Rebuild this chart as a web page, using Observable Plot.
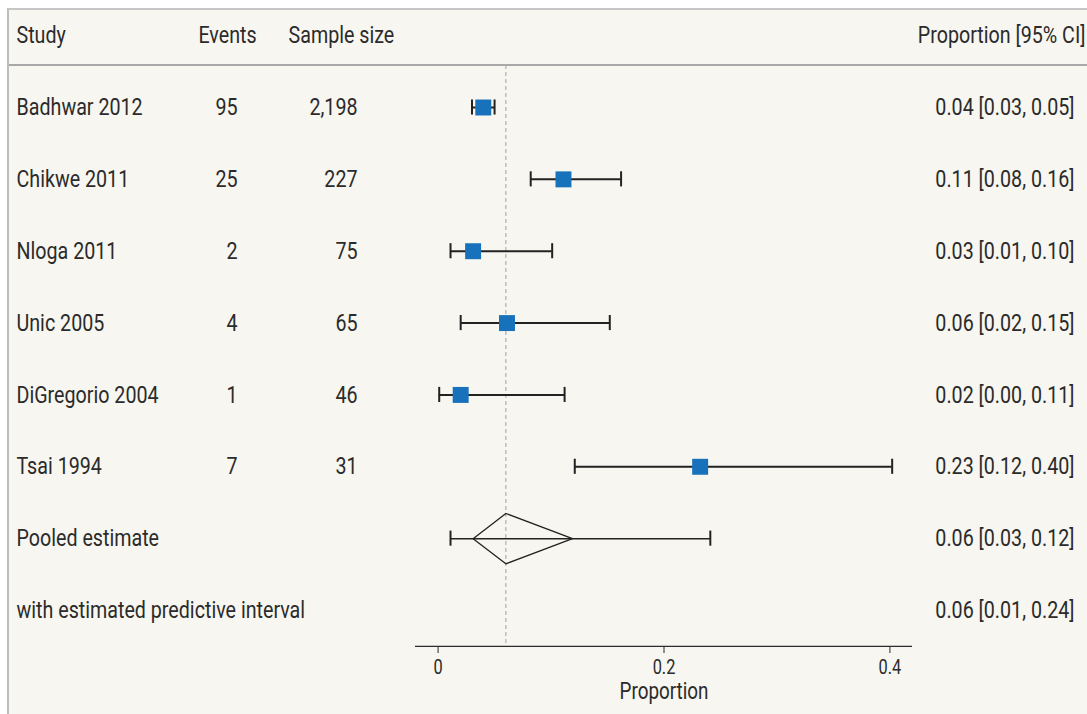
<!DOCTYPE html>
<html>
<head>
<meta charset="utf-8">
<script src="https://cdn.jsdelivr.net/npm/d3@7"></script>
<script src="https://cdn.jsdelivr.net/npm/@observablehq/plot@0.6"></script>
<style>
  html, body { margin: 0; padding: 0; background: #ffffff; }
  #wrap { position: relative; width: 1087px; height: 714px; overflow: hidden; }
  #panel { position: absolute; left: 7px; top: 8px; right: 0; bottom: 0; background: #f7f6f0;
           border-left: 2px solid #bdbdbd; border-top: 2px solid #c6c6c6; }
  #sep { position: absolute; left: 9px; right: 0; top: 64px; height: 2px; background: #a8a8a8; }
  #chart { position: absolute; left: 0; top: 0; }
  #chart svg { background: transparent; }
</style>
</head>
<body>
<div id="wrap">
  <div id="panel"></div>
  <div id="sep"></div>
  <div id="chart"></div>
</div>
<script>
// ---- data ----
const studies = ["Badhwar 2012", "Chikwe 2011", "Nloga 2011", "Unic 2005", "DiGregorio 2004", "Tsai 1994"];
const events = [95, 25, 2, 4, 1, 7];
const sampleSizes = [2198, 227, 75, 65, 46, 31];
const proportions = [0.040, 0.111, 0.031, 0.061, 0.020, 0.232];
const lower = [0.030, 0.082, 0.011, 0.020, 0.001, 0.121];
const upper = [0.050, 0.162, 0.101, 0.152, 0.112, 0.402];
const ciLabels = ["0.04 [0.03, 0.05]", "0.11 [0.08, 0.16]", "0.03 [0.01, 0.10]", "0.06 [0.02, 0.15]", "0.02 [0.00, 0.11]", "0.23 [0.12, 0.40]"];
const summaryLabels = ["Pooled estimate", "with estimated predictive interval"];
const summaryCI = ["0.06 [0.03, 0.12]", "0.06 [0.01, 0.24]"];
const pooledEst = 0.060, pooledLo = 0.031, pooledHi = 0.119;
const predLo = 0.011, predHi = 0.241;
const headers = ["Study", "Events", "Sample size", "Proportion [95% CI]"];
const xTicks = [0, 0.2, 0.4];

// ---- tables built from arrays ----
const rows = studies.map((s, i) => ({
  row: i, study: s, events: events[i], n: d3.format(",")(sampleSizes[i]),
  p: proportions[i], lo: lower[i], hi: upper[i], ci: ciLabels[i]
}));
const summaryRows = summaryLabels.map((s, i) => ({row: studies.length + i, label: s, ci: summaryCI[i]}));
const pooledRow = studies.length;
const dh = 0.35;
const diamond = [
  {x: pooledLo, y: pooledRow}, {x: pooledEst, y: pooledRow - dh},
  {x: pooledHi, y: pooledRow}, {x: pooledEst, y: pooledRow + dh},
  {x: pooledLo, y: pooledRow}
];

const FONT = "Roboto, 'Noto Sans', sans-serif";
const INK = "#2b2b2b";
const FS = 24;

const plot = Plot.plot({
  width: 1087,
  height: 714,
  marginLeft: 415,
  marginRight: 175,
  marginTop: 65,
  marginBottom: 68,
  style: {fontFamily: FONT, background: "transparent", color: INK},
  x: {domain: [-0.02, 0.42]},
  y: {domain: [0, 7], range: [107, 610], axis: null},
  marks: [
    Plot.ruleX([pooledEst], {stroke: "#b0b0b0", strokeWidth: 1.2, strokeDasharray: "4,3"}),
    Plot.ruleY([7.5], {stroke: INK, strokeWidth: 1.2}),
    Plot.axisX({ticks: xTicks, tickSize: 7, tickPadding: 6, tickFormat: d => d === 0 ? "0" : String(d),
                label: null, fontSize: 20, stroke: INK, fill: INK}),
    Plot.text(["Proportion"], {frameAnchor: "bottom", lineAnchor: "middle", dy: 45, fontSize: 23, fill: INK}),
    // study CIs
    Plot.ruleY(rows, {y: "row", x1: "lo", x2: "hi", stroke: "#222", strokeWidth: 2}),
    Plot.ruleX(rows, {x: "lo", y1: d => d.row - 0.105, y2: d => d.row + 0.105, stroke: "#222", strokeWidth: 2}),
    Plot.ruleX(rows, {x: "hi", y1: d => d.row - 0.105, y2: d => d.row + 0.105, stroke: "#222", strokeWidth: 2}),
    Plot.dot(rows, {x: "p", y: "row", symbol: "square", r: 9, fill: "#1872bb", stroke: "none"}),
    // pooled estimate + predictive interval
    Plot.ruleY([pooledRow], {x1: predLo, x2: predHi, stroke: "#222", strokeWidth: 1.5}),
    Plot.ruleX([predLo, predHi], {x: d => d, y1: pooledRow - 0.105, y2: pooledRow + 0.105, stroke: "#222", strokeWidth: 2}),
    Plot.line(diamond, {x: "x", y: "y", stroke: "#222", strokeWidth: 1.3}),
    // header
    Plot.text([headers[0]], {y: -1, frameAnchor: "left", dx: -399, textAnchor: "start", fontSize: FS, fill: INK}),
    Plot.text([headers[1]], {y: -1, frameAnchor: "left", dx: -188, textAnchor: "middle", fontSize: FS, fill: INK}),
    Plot.text([headers[2]], {y: -1, frameAnchor: "left", dx: -127, textAnchor: "start", fontSize: FS, fill: INK}),
    Plot.text([headers[3]], {y: -1, frameAnchor: "right", dx: 173, textAnchor: "end", fontSize: FS, fill: INK}),
    // columns
    Plot.text(rows, {y: "row", text: "study", frameAnchor: "left", dx: -399, textAnchor: "start", fontSize: FS, fill: INK}),
    Plot.text(rows, {y: "row", text: d => String(d.events), frameAnchor: "left", dx: -178, textAnchor: "end", fontSize: FS, fill: INK}),
    Plot.text(rows, {y: "row", text: "n", frameAnchor: "left", dx: -58, textAnchor: "end", fontSize: FS, fill: INK}),
    Plot.text(rows, {y: "row", text: "ci", frameAnchor: "right", dx: 162, textAnchor: "end", fontSize: FS, fill: INK}),
    Plot.text(summaryRows, {y: "row", text: "label", frameAnchor: "left", dx: -399, textAnchor: "start", fontSize: FS, fill: INK}),
    Plot.text(summaryRows, {y: "row", text: "ci", frameAnchor: "right", dx: 162, textAnchor: "end", fontSize: FS, fill: INK})
  ]
});
document.getElementById("chart").appendChild(plot);

// condense glyphs horizontally around each text's own anchor (mimics a condensed typeface)
const SX = 0.82;
plot.querySelectorAll("text").forEach(t => {
  const tr = t.getAttribute("transform") || "";
  t.setAttribute("transform", `${tr} scale(${SX},1)`.trim());
});
</script>
</body>
</html>
